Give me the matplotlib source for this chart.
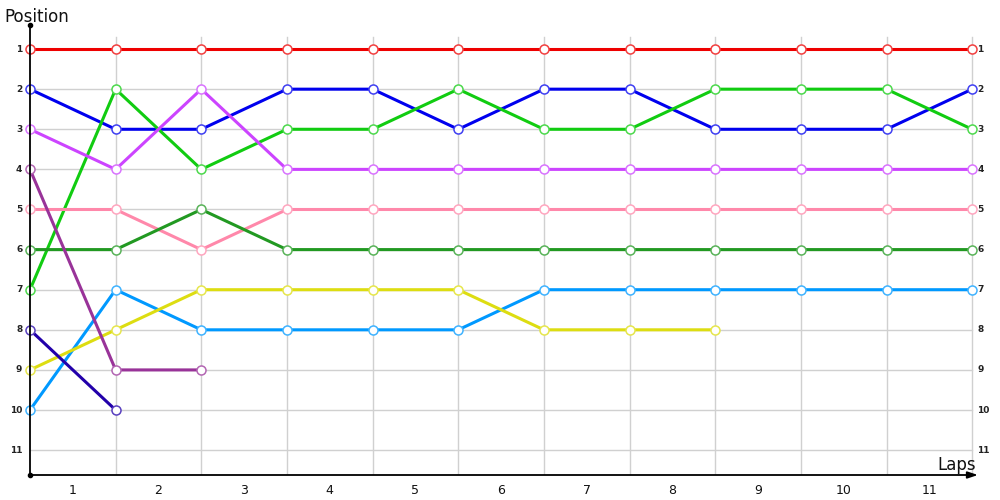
import numpy as np
import matplotlib
matplotlib.use("Agg")
import matplotlib.pyplot as plt
from matplotlib.colors import to_rgb

# positions per lap point (0 = start)
laps = [str(i) for i in range(1, 12)]
positions = list(range(1, 12))

red = [1, 1, 1, 1, 1, 1, 1, 1, 1, 1, 1, 1]
blue = [2, 3, 3, 2, 2, 3, 2, 2, 3, 3, 3, 2]
green = [7, 2, 4, 3, 3, 2, 3, 3, 2, 2, 2, 3]
violet = [3, 4, 2, 4, 4, 4, 4, 4, 4, 4, 4, 4]
pink = [5, 5, 6, 5, 5, 5, 5, 5, 5, 5, 5, 5]
darkgreen = [6, 6, 5, 6, 6, 6, 6, 6, 6, 6, 6, 6]
skyblue = [10, 7, 8, 8, 8, 8, 7, 7, 7, 7, 7, 7]
yellow = [9, 8, 7, 7, 7, 7, 8, 8, 8]
purple = [4, 9, 9]
navy = [8, 10]

series = [
    (red, "#ee0000"),
    (blue, "#0000ee"),
    (green, "#11cc11"),
    (violet, "#cc44ff"),
    (pink, "#ff88aa"),
    (darkgreen, "#229922"),
    (skyblue, "#0099ff"),
    (yellow, "#dddd11"),
    (purple, "#993399"),
    (navy, "#2200aa"),
]

fig = plt.figure(figsize=(10, 5), dpi=100)
ax = fig.add_axes([0.03, 0.05, 0.955, 0.9])
xmax = 11.15
ax.set_xlim(0, xmax)
ax.set_ylim(11.62, 0.4)
ax.axis("off")

# grid
for p in positions:
    ax.plot([0, 11], [p, p], color="#d0d0d0", lw=1, zorder=1)
for i in range(1, 12):
    ax.plot([i, i], [0.7, 11.62], color="#d0d0d0", lw=1, zorder=1)

# axes
ax.plot([0, 0], [0.4, 11.62], color="black", lw=1.3, zorder=5, clip_on=False)
ax.plot([0], [0.4], "o", color="black", ms=3, zorder=5, clip_on=False)
ax.plot([0], [11.62], "o", color="black", ms=3, zorder=5, clip_on=False)
ax.annotate("", xy=(xmax - 0.05, 11.62), xytext=(0, 11.62),
            arrowprops=dict(arrowstyle="-|>,head_length=0.6,head_width=0.2",
                            color="black", lw=1.3),
            annotation_clip=False, zorder=5)

for vals, col in series:
    x = np.arange(len(vals))
    edge = tuple(0.75 * np.array(to_rgb(col)) + 0.25)
    ax.plot(x, vals, color=col, lw=2.2, zorder=3, solid_capstyle="round")
    ax.plot(x, vals, "o", ms=6.5, mfc="white", mec=edge, mew=1.1, zorder=4, clip_on=False)

for p in positions:
    ax.text(-0.09, p, str(p), ha="right", va="center", fontsize=6.5,
            fontweight="bold", color="#222222")
    ax.text(11.06, p, str(p), ha="left", va="center", fontsize=6.5,
            fontweight="bold", color="#222222")

for i, lab in enumerate(laps):
    ax.text(i + 0.5, 12.0, lab, ha="center", va="center", fontsize=9, color="#111111")

ax.text(-0.3, 0.2, "Position", ha="left", va="center", fontsize=12, color="#111111")
ax.text(11.04, 11.37, "Laps", ha="right", va="center", fontsize=12, color="#111111")

fig.savefig("out.png", dpi=100)
